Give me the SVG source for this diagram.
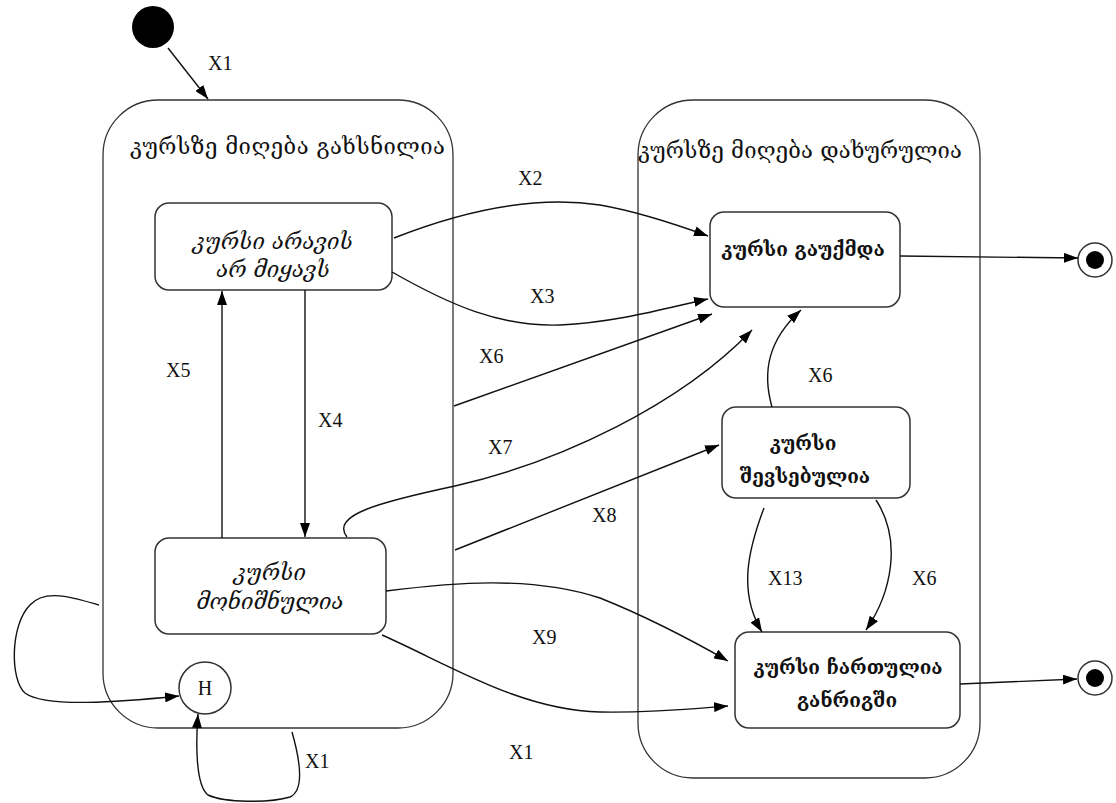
<svg xmlns="http://www.w3.org/2000/svg" width="1116" height="803" viewBox="0 0 1116 803">
<style>
.box{fill:#fff;stroke:#333;stroke-width:1.5}
.cont{fill:none;stroke:#333;stroke-width:1.3}
.edge{fill:none;stroke:#111;stroke-width:1.4}
.geo{font-family:"DejaVu Serif","DejaVu Sans",serif;fill:#111}
.title{font-size:22px}
.it{font-size:22px;font-style:italic}
.bd{font-size:19px;font-weight:bold}
.lbl{font-family:"Liberation Serif","Times New Roman",serif;font-size:20px;fill:#111}
</style>
<defs>
<marker id="arr" viewBox="0 0 14 10" refX="14" refY="5" markerWidth="14" markerHeight="10" markerUnits="userSpaceOnUse" orient="auto">
<path d="M0,0 L14,5 L0,10 z" fill="#000"/>
</marker>
</defs>
<rect width="1116" height="803" fill="#fff"/>

<g id="container-open">
<rect class="cont" x="103" y="100" width="350" height="628" rx="55" ry="55"/>
<text class="geo title" x="130" y="154" textLength="315">კურსზე მიღება გახსნილია</text>
</g>
<g id="container-closed">
<rect class="cont" x="638" y="100" width="342" height="678" rx="55" ry="55"/>
<text class="geo title" x="638" y="158" textLength="324">კურსზე მიღება დახურულია</text>
</g>

<g id="initial"><circle cx="153" cy="27" r="21" fill="#000"/></g>

<g id="node-nobody">
<rect class="box" x="155" y="203" width="237" height="87" rx="14"/>
<text class="geo it" x="273" y="249" text-anchor="middle">კურსი არავის</text>
<text class="geo it" x="273" y="277" text-anchor="middle">არ მიყავს</text>
</g>
<g id="node-marked">
<rect class="box" x="155" y="538" width="231" height="96" rx="14"/>
<text class="geo it" x="270" y="580" text-anchor="middle">კურსი</text>
<text class="geo it" x="270" y="609" text-anchor="middle">მონიშნულია</text>
</g>
<g id="history">
<circle class="box" cx="205" cy="688" r="26"/>
<text class="lbl" x="205" y="695" text-anchor="middle">H</text>
</g>
<g id="node-cancelled">
<rect class="box" x="710" y="212" width="190" height="95" rx="14"/>
<text class="geo bd" x="803" y="256" text-anchor="middle">კურსი გაუქმდა</text>
</g>
<g id="node-full">
<rect class="box" x="722" y="407" width="188" height="91" rx="14"/>
<text class="geo bd" x="803" y="450" text-anchor="middle">კურსი</text>
<text class="geo bd" x="805" y="483" text-anchor="middle">შევსებულია</text>
</g>
<g id="node-scheduled">
<rect class="box" x="735" y="632" width="225" height="96" rx="14"/>
<text class="geo bd" x="848" y="674" text-anchor="middle">კურსი ჩართულია</text>
<text class="geo bd" x="847" y="707" text-anchor="middle">განრიგში</text>
</g>
<g id="final-1">
<circle cx="1095" cy="260" r="17" fill="#fff" stroke="#333" stroke-width="1.5"/>
<circle cx="1095" cy="260" r="9" fill="#000"/>
</g>
<g id="final-2">
<circle cx="1095" cy="678" r="17" fill="#fff" stroke="#333" stroke-width="1.5"/>
<circle cx="1095" cy="678" r="9" fill="#000"/>
</g>

<g id="connectors">
<path class="edge" marker-end="url(#arr)" d="M168,48 L208,99"/>
<path class="edge" marker-end="url(#arr)" d="M394,238 C470,208 540,196 600,205 C640,212 675,224 708,236"/>
<path class="edge" marker-end="url(#arr)" d="M392,272 C450,305 500,327 560,325 C620,322 670,307 708,299"/>
<path class="edge" marker-end="url(#arr)" d="M454,406 L712,314"/>
<path class="edge" marker-end="url(#arr)" d="M347,537 C330,515 380,502 455,486 C560,462 680,405 752,330"/>
<path class="edge" marker-end="url(#arr)" d="M455,550 L719,445"/>
<path class="edge" marker-end="url(#arr)" d="M386,591 C450,583 530,575 600,598 C650,618 700,645 728,661"/>
<path class="edge" marker-end="url(#arr)" d="M382,635 C450,665 520,710 600,712 C650,713 690,709 728,706"/>
<path class="edge" marker-end="url(#arr)" d="M772,407 C762,372 768,340 801,310"/>
<path class="edge" marker-end="url(#arr)" d="M764,508 C748,550 738,592 762,632"/>
<path class="edge" marker-end="url(#arr)" d="M876,500 C902,540 892,592 866,630"/>
<path class="edge" marker-end="url(#arr)" d="M900,256 L1078,258"/>
<path class="edge" marker-end="url(#arr)" d="M960,684 L1077,679"/>
<path class="edge" marker-end="url(#arr)" d="M222,538 L222,291"/>
<path class="edge" marker-end="url(#arr)" d="M305,290 L305,537"/>
<path class="edge" marker-end="url(#arr)" d="M99,605 C75,598 45,588 30,605 C10,625 10,680 25,693 C45,708 120,702 179,696"/>
<path class="edge" marker-end="url(#arr)" d="M292,732 C300,760 305,790 290,797 C270,803 225,803 208,795 C195,785 196,740 198,714"/>
</g>

<g id="labels">
<text class="lbl" x="208" y="70">X1</text>
<text class="lbl" x="518" y="185">X2</text>
<text class="lbl" x="530" y="303">X3</text>
<text class="lbl" x="479" y="363">X6</text>
<text class="lbl" x="488" y="454">X7</text>
<text class="lbl" x="592" y="522">X8</text>
<text class="lbl" x="532" y="644">X9</text>
<text class="lbl" x="509" y="759">X1</text>
<text class="lbl" x="166" y="377">X5</text>
<text class="lbl" x="318" y="427">X4</text>
<text class="lbl" x="808" y="382">X6</text>
<text class="lbl" x="768" y="585">X13</text>
<text class="lbl" x="912" y="585">X6</text>
<text class="lbl" x="305" y="768">X1</text>
</g>
</svg>
